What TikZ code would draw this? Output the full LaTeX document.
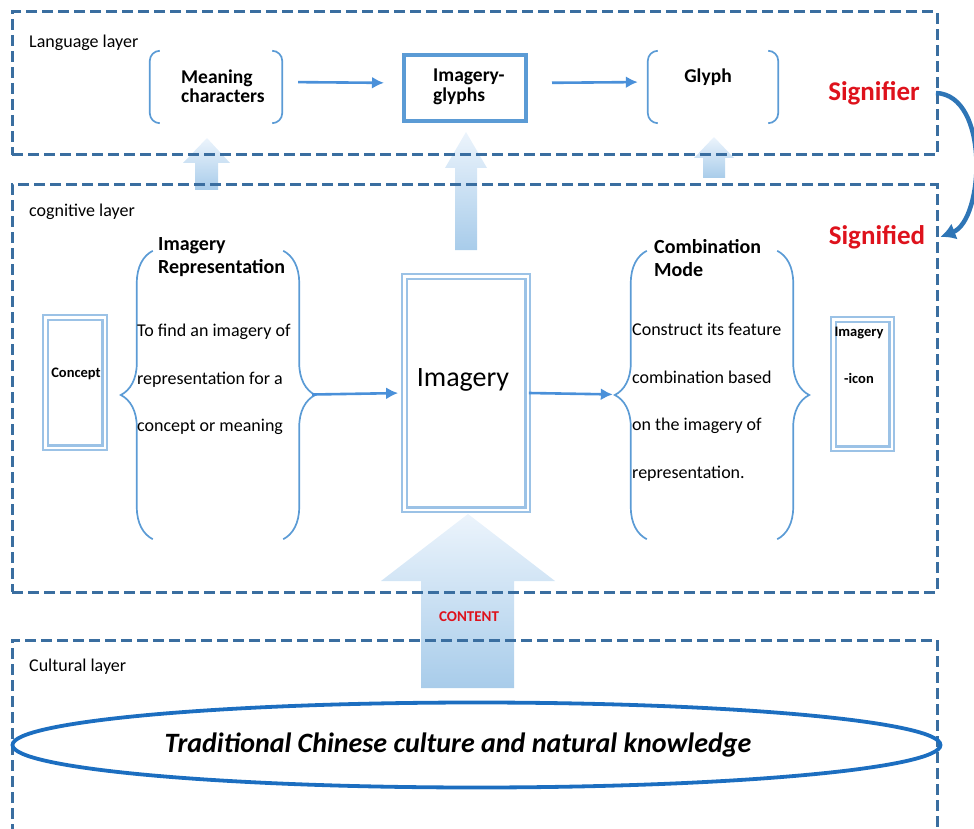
\documentclass[tikz,border=0pt]{standalone}
\usepackage{fontspec}
\setmainfont{Carlito}
\usetikzlibrary{arrows, arrows.meta, shapes, shapes.geometric, decorations.pathreplacing, positioning, calc}
\definecolor{layerblue}{RGB}{58,110,160}
\definecolor{lineblue}{RGB}{91,155,213}
\definecolor{boxblue}{RGB}{155,194,230}
\definecolor{arrowblue}{RGB}{74,144,217}
\definecolor{sigred}{RGB}{222,18,28}
\definecolor{ovalblue}{RGB}{28,110,192}
\definecolor{fattop}{RGB}{236,244,252}
\definecolor{fatbot}{RGB}{168,204,234}
\definecolor{swingblue}{RGB}{46,117,182}

\begin{document}
\begin{tikzpicture}[x=1pt,y=-1pt,every node/.style={inner sep=0pt}]
  \tikzstyle{layerbox} = [draw=layerblue, line width=3pt, dash pattern=on 11pt off 5pt]
  \tikzstyle{dbox} = [rectangle, draw=boxblue, double=white, double distance=2.5pt, line width=2.2pt]
  \tikzstyle{grp} = [rectangle, minimum height=72pt]
  \tikzstyle{brk} = [draw=lineblue, line width=1.7pt]
  \tikzstyle{flow} = [->, draw=arrowblue, line width=2.6pt, >={Latex[length=12pt, width=12pt]}]
  \tikzstyle{fat} = [top color=fattop, bottom color=fatbot]
  \tikzstyle{lbl} = [font=\fontsize{18}{20}\selectfont, anchor=west]
  \tikzstyle{head} = [font=\fontsize{20}{23}\selectfont\bfseries, align=left, anchor=west]
  \tikzstyle{txt} = [font=\fontsize{18}{47.5}\selectfont, align=left, anchor=west]
  \tikzstyle{sig} = [font=\fontsize{27}{30}\selectfont\bfseries, text=sigred]
  \useasboundingbox (0,0) rectangle (974,829);

  % fat arrows go under the dashed layers
  \shade[fat] (195,190) -- (195,163) -- (183,163) -- (207,138) -- (230,163) -- (218,163) -- (218,190) -- cycle;
  \shade[fat] (455,250) -- (455,168) -- (445,168) -- (466,132) -- (487,168) -- (477,168) -- (477,250) -- cycle;
  \shade[fat] (703,178) -- (703,158) -- (694,158) -- (714,137) -- (734,158) -- (725,158) -- (725,178) -- cycle;
  \shade[fat] (421,688) -- (421,581) -- (381,581) -- (468,514) -- (555,581) -- (514,581) -- (514,688) -- cycle;

  % layers
  \node[layerbox, minimum width=925pt, minimum height=143pt] at (474.5,83.5) (LL) {};
  \node[layerbox, minimum width=925pt, minimum height=407pt] at (474.5,388.5) (CL) {};
  \draw[layerbox] (12,835) -- (12,640) -- (937,640) -- (937,835);
  \node[lbl] at (29,43) (LLt) {Language layer};
  \node[lbl] at (29,212) (CLt) {cognitive layer};
  \node[lbl] at (29,667) (KLt) {Cultural layer};

  % language layer
  \node[grp, minimum width=132pt] at (216,87) (MC) {};
  \node[grp, minimum width=130pt] at (713,87) (GL) {};
  \node[rectangle, draw=lineblue, line width=4pt, minimum width=122pt, minimum height=66pt] at (465,88) (IG) {};
  \draw[brk, rounded corners=10pt] ([xshift=10pt]MC.north west) -- (MC.north west) -- (MC.south west) -- ([xshift=10pt]MC.south west);
  \draw[brk, rounded corners=10pt] ([xshift=-10pt]MC.north east) -- (MC.north east) -- (MC.south east) -- ([xshift=-10pt]MC.south east);
  \draw[brk, rounded corners=10pt] ([xshift=10pt]GL.north west) -- (GL.north west) -- (GL.south west) -- ([xshift=10pt]GL.south west);
  \draw[brk, rounded corners=10pt] ([xshift=-10pt]GL.north east) -- (GL.north east) -- (GL.south east) -- ([xshift=-10pt]GL.south east);
  \node[font=\fontsize{19.5}{19.5}\selectfont\bfseries, align=left, anchor=west] at (181,86) (MCt) {Meaning\\characters};
  \node[font=\fontsize{19.5}{19.5}\selectfont\bfseries, align=left, anchor=west] at (433,87) (IGt) {Imagery-\\glyphs};
  \node[font=\fontsize{19.5}{19.5}\selectfont\bfseries] at (708,77) (GLt) {Glyph};
  \draw[flow, shorten <=16pt, shorten >=18pt] ([yshift=5pt]MC.east) -- ([yshift=5pt]IG.west);
  \draw[flow, shorten <=24pt, shorten >=10pt] ([yshift=5pt]IG.east) -- ([yshift=5pt]GL.west);

  % signifier / signified
  \node[sig] at (874,93) (SR) {Signifier};
  \node[sig] at (877,237) (SD) {Signified};
  \draw[->, draw=swingblue, line width=4.5pt, >={Latex[length=15pt, width=17pt]}] ([xshift=16pt]SR.east) .. controls (990,95) and (984,220) .. ([xshift=15pt]SD.east);

  % cognitive layer
  \node[dbox, minimum width=59.5pt, minimum height=130.5pt] at (75,382.5) (CO) {};
  \node[font=\fontsize{14.5}{16}\selectfont\bfseries] at (76,374) (COt) {Concept};
  \node[grp, minimum width=130pt, minimum height=288pt] at (218,395) (IR) {};
  \draw[brk, decorate, decoration={brace, amplitude=32pt}] (IR.south west) -- (IR.north west);
  \draw[brk, decorate, decoration={brace, amplitude=32pt}] (IR.north east) -- (IR.south east);
  \node[head] at (158,257) (IRh) {Imagery\\Representation};
  \node[txt] at (137,379.5) (IRt) {To find an imagery of\\representation for a\\concept or meaning};
  \node[dbox, minimum width=123.5pt, minimum height=233.5pt] at (466,393) (IM) {};
  \node[font=\fontsize{28}{30}\selectfont] at (463,380) (IMt) {Imagery};
  \node[grp, minimum width=130pt, minimum height=288pt] at (712,395) (CM) {};
  \draw[brk, decorate, decoration={brace, amplitude=32pt}] (CM.south west) -- (CM.north west);
  \draw[brk, decorate, decoration={brace, amplitude=32pt}] (CM.north east) -- (CM.south east);
  \node[head] at (654,258) (CMh) {Combination\\Mode};
  \node[txt] at (632,402.5) (CMt) {Construct its feature\\combination based\\on the imagery of\\representation.};
  \node[dbox, minimum width=58.5pt, minimum height=129.5pt] at (862.5,384) (IC) {};
  \node[font=\fontsize{14.5}{47}\selectfont\bfseries, align=center] at (859,355.5) (ICt) {Imagery\\-icon};
  \draw[flow, shorten <=29pt, shorten >=5pt] (IR.east) -- (IM.west);
  \draw[flow, shorten >=34pt] (IM.east) -- (CM.west);

  % cultural layer
  \node[font=\fontsize{15}{16}\selectfont\bfseries, text=sigred] at (469,617) (CT) {CONTENT};
  \node[ellipse, draw=ovalblue, line width=3.8pt, minimum width=928pt, minimum height=85pt] at (476.5,745) (TC) {};
  \node[font=\fontsize{28}{30}\selectfont\bfseries\itshape] at (458,745) (TCt) {Traditional Chinese culture and natural knowledge};
\end{tikzpicture}
\end{document}
